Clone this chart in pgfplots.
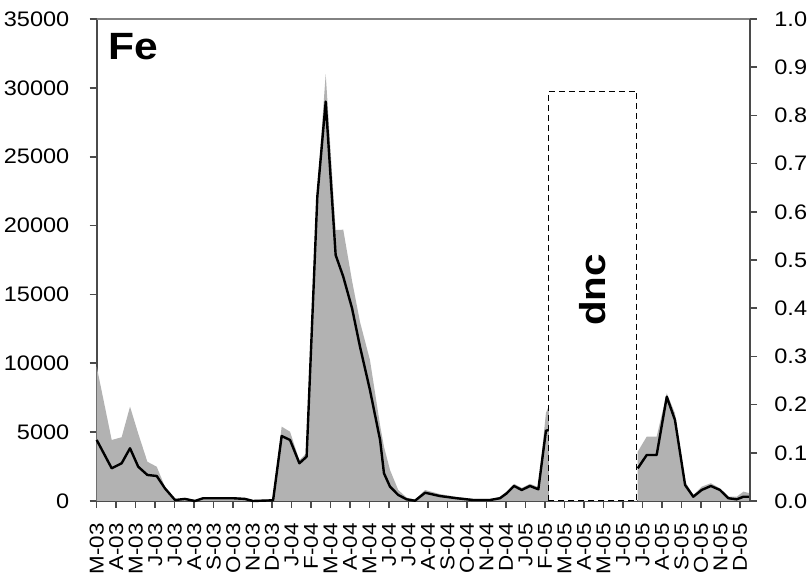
\documentclass[border=0pt]{standalone}
\usepackage{fontspec}
\setmainfont[FakeStretch=1.12]{Liberation Sans}
\usepackage{pgfplots}
\usepackage{pgfplotstable}
\pgfplotsset{compat=1.18}

\definecolor{fillgray}{RGB}{178,178,178}
\definecolor{axisgray}{RGB}{75,75,75}
\definecolor{framegray}{RGB}{130,130,130}

% Fe: x = months since March 2003, g = upper (grey) series, b = line series
\pgfplotstableread{
x      g      b
0.00   9750   4430
0.77   4430   2375
1.28   4630   2740
1.71   6850   3830
2.13   4900   2490
2.60   2850   1890
3.08   2490   1815
3.50   1040   920
4.02   100    70
4.53   200    150
5.04   80     0
5.46   280    200
6.07   280    200
7.00   280    200
7.60   220    150
8.02   80     0
8.64   100    30
9.05   150    50
9.49   5400   4720
9.92   5030   4430
10.40  2950   2740
10.77  3500   3220
11.32  22500  22100
11.75  31000  29000
12.26  19680  17860
12.65  19700  16290
13.10  16000  14000
13.51  13000  11200
14.02  10240  8060
14.54  5500   4430
14.74  3940   2010
15.05  2250   1040
15.47  800    440
15.90  250    120
16.33  100    20
16.85  800    600
17.61  500    360
18.47  300    200
19.32  150    70
20.18  150    70
20.69  300    200
21.04  700    560
21.41  1250   1090
21.81  950    800
22.23  1250   1090
22.66  1000   850
23.05  6400   5100
23.20  6900   5160
}\feA

\pgfplotstableread{
x      g      b
27.76  3580   2370
28.22  4670   3340
28.73  4670   3340
29.25  7820   7570
29.67  6370   5880
30.19  1400   1160
30.61  440    310
31.04  1040   800
31.51  1290   1090
31.98  920    800
32.41  310    200
32.84  310    120
33.18  680    310
33.52  560    310
}\feB

\pgfplotsset{
  ticklab/.style={font=\fontsize{10.5}{11}\selectfont},
}

\begin{document}
\begin{tikzpicture}
\useasboundingbox (-48.35pt,-38pt) rectangle (356.15pt,250.5pt);
\begin{axis}[
  at={(0pt,0pt)}, anchor=south west,
  scale only axis, width=326.65pt, height=241pt,
  xmin=0, xmax=33.52, ymin=0, ymax=35000,
  axis x line*=bottom, axis y line*=left,
  axis line style={axisgray, line width=0.9pt},
  tick style={axisgray, line width=0.8pt},
  tick align=outside, major tick length=3.5pt,
  xtick={0,...,33},
  xticklabels={M-03,A-03,M-03,J-03,J-03,A-03,S-03,O-03,N-03,D-03,
               J-04,F-04,M-04,A-04,M-04,J-04,J-04,A-04,S-04,O-04,N-04,D-04,
               J-05,F-05,M-05,A-05,M-05,J-05,J-05,A-05,S-05,O-05,N-05,D-05},
  xticklabel style={font=\fontsize{10}{10}\selectfont, rotate=90, anchor=east,
    inner sep=0pt, xshift=-7.5pt},
  ytick={0,5000,...,35000},
  scaled y ticks=false,
  yticklabel style={ticklab, anchor=east, inner sep=0pt, xshift=-10pt},
  /pgf/number format/1000 sep={},
  /pgf/number format/assume math mode=true,
  clip=false,
]
  \addplot[fill=fillgray, draw=none] table[x=x, y=g] {\feA} \closedcycle;
  \addplot[fill=fillgray, draw=none] table[x=x, y=g] {\feB} \closedcycle;
  \addplot[black, line width=1.2pt, line join=round] table[x=x, y=b] {\feA};
  \addplot[black, line width=1.2pt, line join=round] table[x=x, y=b] {\feB};
  % period with no data collected
  \addplot[draw=black, densely dashed, line width=0.5pt, fill=white]
    coordinates {(23.2,0) (23.2,29750) (27.72,29750) (27.72,0)} -- cycle;
  \node[rotate=90, font=\bfseries\fontsize{18}{18}\selectfont]
    at (axis cs:25.46,15320) {dnc};
  \node[anchor=north west, inner sep=0pt, font=\bfseries\fontsize{19}{19}\selectfont]
    at (rel axis cs:0.017,0.97) {Fe};
\end{axis}
\begin{axis}[
  at={(0pt,0pt)}, anchor=south west,
  scale only axis, width=326.65pt, height=241pt,
  xmin=0, xmax=33.52, ymin=0, ymax=1,
  axis x line*=top, axis y line*=right,
  x axis line style={framegray, line width=0.9pt},
  y axis line style={axisgray, line width=0.9pt},
  tick style={axisgray, line width=0.8pt},
  tick align=outside, major tick length=3.5pt,
  xtick=\empty,
  ytick={0,0.1,0.2,0.3,0.4,0.5,0.6,0.7,0.8,0.9,1.0},
  yticklabel style={ticklab, anchor=west, inner sep=0pt, xshift=8.5pt,
    /pgf/number format/.cd, fixed, fixed zerofill, precision=1},
  /pgf/number format/assume math mode=true,
]
\end{axis}
\end{tikzpicture}
\end{document}
